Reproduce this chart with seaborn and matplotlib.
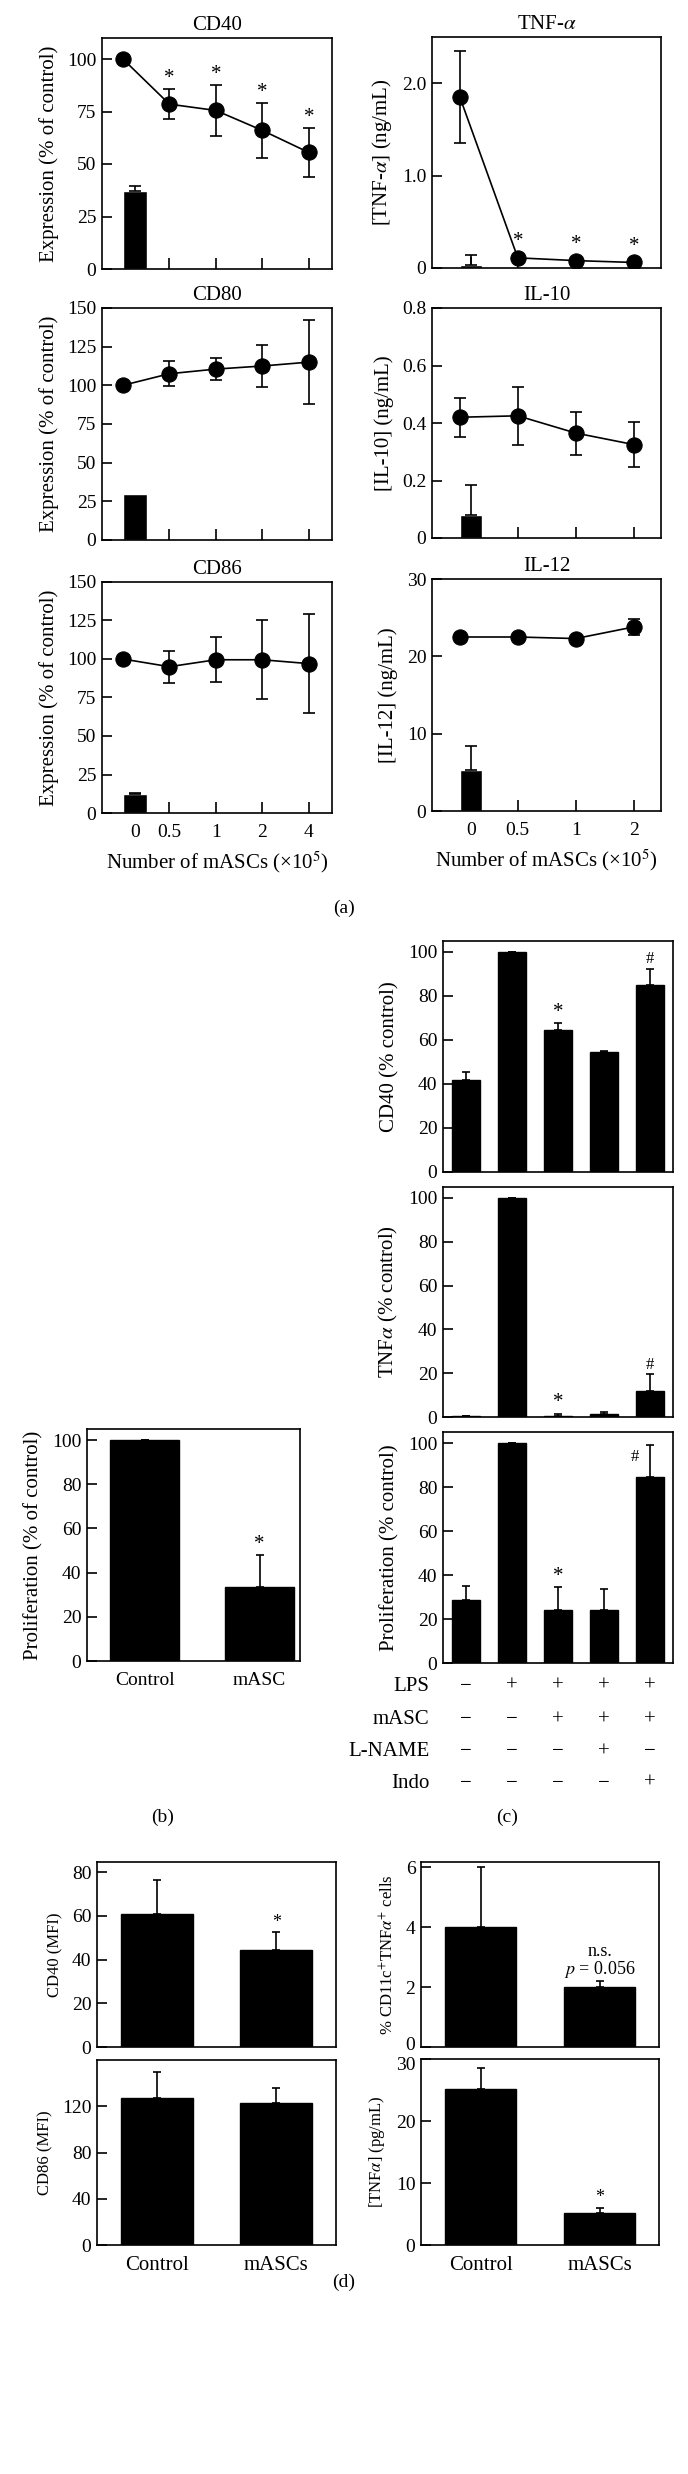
import matplotlib
matplotlib.use("Agg")
import matplotlib.pyplot as plt
from matplotlib.transforms import ScaledTranslation
import seaborn as sns
import numpy as np

# ---------------- (a) dose response (mean, sd)
dose_left = ["0", "0.5", "1", "2", "4"]
dose_right = ["0", "0.5", "1", "2"]

cd40_mean = [100, 78.5, 75.5, 66, 55.5]
cd40_sd = [0, 7, 12, 13, 11.5]
cd40_ctrl, cd40_ctrl_sd = 37, 2.5
cd80_mean = [100, 107.5, 110.5, 112.5, 115]
cd80_sd = [0, 8, 7, 13.5, 27]
cd80_ctrl, cd80_ctrl_sd = 30, 0
cd86_mean = [100, 95, 99.5, 99.5, 97]
cd86_sd = [0, 10.5, 14.5, 25.5, 32]
cd86_ctrl, cd86_ctrl_sd = 12.5, 0.5

tnf_mean = [1.85, 0.11, 0.08, 0.06]
tnf_sd = [0.5, 0, 0, 0]
tnf_ctrl, tnf_ctrl_sd = 0.03, 0.11
il10_mean = [0.42, 0.425, 0.365, 0.325]
il10_sd = [0.068, 0.1, 0.075, 0.077]
il10_ctrl, il10_ctrl_sd = 0.08, 0.105
il12_mean = [22.5, 22.5, 22.3, 23.8]
il12_sd = [0, 0, 0, 1.0]
il12_ctrl, il12_ctrl_sd = 5.3, 3.1

# ---------------- (b)
b_groups = ["Control", "mASC"]
b_mean = [100, 33.5]
b_sd = [0, 14.5]

# ---------------- (c)
c_cd40 = [42, 100, 64.5, 54.5, 85]
c_cd40_sd = [3.5, 0, 3, 0.5, 7.5]
c_tnf = [0.3, 100, 0.5, 1.5, 12]
c_tnf_sd = [0, 0, 1, 1, 7.5]
c_prolif = [28.5, 100, 24, 24, 84.5]
c_prolif_sd = [6.5, 0, 10.5, 9.5, 14.5]
c_rows = ["LPS", "mASC", "L-NAME", "Indo"]
c_lps = ["\u2212", "+", "+", "+", "+"]
c_masc = ["\u2212", "\u2212", "+", "+", "+"]
c_lname = ["\u2212", "\u2212", "\u2212", "+", "\u2212"]
c_indo = ["\u2212", "\u2212", "\u2212", "\u2212", "+"]

# ---------------- (d)
d_groups = ["Control", "mASCs"]
d_cd40 = [61, 44.5]
d_cd40_sd = [15.5, 8]
d_cd86 = [127, 123]
d_cd86_sd = [23, 13]
d_pct = [4.0, 2.0]
d_pct_sd = [2.0, 0.2]
d_tnf = [25.2, 5.1]
d_tnf_sd = [3.3, 0.9]

sns.set_theme(style="ticks", rc={
    "xtick.direction": "in", "ytick.direction": "in",
    "axes.edgecolor": "black", "axes.linewidth": 1.2,
    "xtick.color": "black", "ytick.color": "black",
    "xtick.major.size": 7, "ytick.major.size": 7,
    "xtick.major.width": 1.2, "ytick.major.width": 1.2,
})
plt.rcParams["font.family"] = ["Liberation Serif", "DejaVu Serif"]
plt.rcParams["mathtext.fontset"] = "stix"
plt.rcParams["text.color"] = "black"
plt.rcParams["axes.labelcolor"] = "black"

W, H = 688, 2474
fig = plt.figure(figsize=(W / 100, H / 100), dpi=100)


def panel(x0, x1, y0, y1):
    return fig.add_axes([x0 / W, 1 - y1 / H, (x1 - x0) / W, (y1 - y0) / H])


def star(ax, x, y, s="*", off=1, size=15, ha="center"):
    ax.annotate(s, (x, y), xytext=(0, off), textcoords="offset points",
                ha=ha, va="bottom", fontsize=size)


def nudge(label, dy_px):
    label.set_transform(label.get_transform()
                        + ScaledTranslation(0, dy_px / 100, fig.dpi_scale_trans))


def dose_panel(ax, labels, mean, sd, ctrl, ctrl_sd, bar_w, xlim, ylim,
               yticks, yticklabels, title, ylabel, stars=(), star_off=1,
               show_x=False):
    xs = np.arange(len(mean))
    ax.bar(0, ctrl, width=bar_w, align="edge", color="black", zorder=2)
    if ctrl_sd:
        ax.errorbar([bar_w / 2], [ctrl], yerr=[[0], [ctrl_sd]], fmt="none",
                    ecolor="black", elinewidth=1.2, capsize=4, capthick=1.2)
    ax.errorbar(xs, mean, yerr=sd, fmt="none", ecolor="black",
                elinewidth=1.2, capsize=4, capthick=1.2, zorder=3)
    sns.lineplot(x=xs, y=mean, color="black", marker="o", markersize=11,
                 markeredgecolor="black", linewidth=1.2, ax=ax, zorder=4)
    for i in stars:
        star(ax, xs[i], mean[i] + sd[i], off=star_off)
    ax.set_xlim(*xlim)
    ax.set_ylim(*ylim)
    ax.set_xticks([bar_w / 2] + list(xs[1:]))
    ax.set_xticklabels(labels if show_x else [""] * len(labels))
    ax.tick_params(axis="x", length=8, pad=8, labelsize=14)
    ax.set_yticks(yticks)
    ax.set_yticklabels(yticklabels)
    ax.tick_params(axis="y", labelsize=14, pad=4)
    ax.set_title(title, fontsize=15, pad=6)
    ax.set_ylabel(ylabel, fontsize=15, labelpad=6)
    if show_x:
        ax.set_xlabel("Number of mASCs (\u00d710$^5$)", fontsize=15, labelpad=6)


expr = "Expression (% of control)"
L = (102, 332)
R = (432, 661)
dose_panel(panel(*L, 38, 269), dose_left, cd40_mean, cd40_sd, cd40_ctrl,
           cd40_ctrl_sd, 0.52, (-0.45, 4.5), (0, 110), [0, 25, 50, 75, 100],
           ["0", "25", "50", "75", "100"], "CD40", expr, stars=[1, 2, 3, 4])
dose_panel(panel(*L, 308, 540), dose_left, cd80_mean, cd80_sd, cd80_ctrl,
           cd80_ctrl_sd, 0.52, (-0.45, 4.5), (0, 150), range(0, 151, 25),
           [str(v) for v in range(0, 151, 25)], "CD80", expr)
dose_panel(panel(*L, 582, 813), dose_left, cd86_mean, cd86_sd, cd86_ctrl,
           cd86_ctrl_sd, 0.52, (-0.45, 4.5), (0, 150), range(0, 151, 25),
           [str(v) for v in range(0, 151, 25)], "CD86", expr, show_x=True)

dose_panel(panel(*R, 37, 268), dose_right, tnf_mean, tnf_sd, tnf_ctrl,
           tnf_ctrl_sd, 0.38, (-0.48, 3.47), (0, 2.5), [0, 1, 2],
           ["0", "1.0", "2.0"], r"TNF-$\alpha$", r"[TNF-$\alpha$] (ng/mL)",
           stars=[1, 2, 3], star_off=5)
dose_panel(panel(*R, 308, 538), dose_right, il10_mean, il10_sd, il10_ctrl,
           il10_ctrl_sd, 0.38, (-0.48, 3.47), (0, 0.8), [0, 0.2, 0.4, 0.6, 0.8],
           ["0", "0.2", "0.4", "0.6", "0.8"], "IL-10", "[IL-10] (ng/mL)")
dose_panel(panel(*R, 579, 811), dose_right, il12_mean, il12_sd, il12_ctrl,
           il12_ctrl_sd, 0.38, (-0.48, 3.47), (0, 30), [0, 10, 20, 30],
           ["0", "10", "20", "30"], "IL-12", "[IL-12] (ng/mL)", show_x=True)


def bar_panel(ax, groups, mean, sd, ylim, yticks, ylabel, xlim=(-0.5, 1.5),
              tick_size=14, xtick_size=14, label_size=15, cap=3, show_x=True):
    sns.barplot(x=groups, y=mean, color="black", saturation=1, width=0.6,
                edgecolor="black", ax=ax, zorder=2)
    xs = np.arange(len(mean))
    ax.errorbar(xs, mean, yerr=[np.zeros(len(sd)), sd], fmt="none",
                ecolor="black", elinewidth=1.2, capsize=cap, capthick=1.2,
                zorder=3)
    ax.set_xlim(*xlim)
    ax.set_ylim(*ylim)
    ax.set_yticks(yticks)
    ax.set_yticklabels([f"{v:g}" for v in yticks])
    ax.tick_params(axis="y", labelsize=tick_size, pad=4)
    ax.tick_params(axis="x", length=0, pad=8, labelsize=xtick_size)
    if not show_x:
        ax.set_xticklabels([])
    ax.set_ylabel(ylabel, fontsize=label_size, labelpad=6)
    ax.set_xlabel("")
    return xs


# (b)
axb = panel(87, 300, 1429, 1661)
xs = bar_panel(axb, b_groups, b_mean, b_sd, (0, 105), range(0, 101, 20),
               "Proliferation (% of control)", xlim=(-0.5, 1.35))
star(axb, xs[1], b_mean[1] + b_sd[1])

# (c)
cx = (443, 673)
c_groups = ["g1", "g2", "g3", "g4", "g5"]
ax1 = panel(*cx, 941, 1172)
xs = bar_panel(ax1, c_groups, c_cd40, c_cd40_sd, (0, 105), range(0, 101, 20),
               "CD40 (% control)", xlim=(-0.5, 4.5), show_x=False)
star(ax1, xs[2], c_cd40[2] + c_cd40_sd[2])
star(ax1, xs[4], c_cd40[4] + c_cd40_sd[4], s="#", size=12)
ax2 = panel(*cx, 1187, 1417)
xs = bar_panel(ax2, c_groups, c_tnf, c_tnf_sd, (0, 105), range(0, 101, 20),
               r"TNF$\alpha$ (% control)", xlim=(-0.5, 4.5), show_x=False)
star(ax2, xs[2], c_tnf[2] + c_tnf_sd[2])
star(ax2, xs[4], c_tnf[4] + c_tnf_sd[4], s="#", size=12)
ax3 = panel(*cx, 1432, 1663)
xs = bar_panel(ax3, c_groups, c_prolif, c_prolif_sd, (0, 105),
               range(0, 101, 20), "Proliferation (% control)",
               xlim=(-0.5, 4.5), show_x=False)
star(ax3, xs[2], c_prolif[2] + c_prolif_sd[2])
ax3.annotate("#", (xs[4], c_prolif[4] + c_prolif_sd[4]), xytext=(-8, -14),
             textcoords="offset points", ha="right", va="bottom", fontsize=12)
row_y = [-0.10, -0.245, -0.385, -0.52]
for rname, signs, ry in zip(c_rows, [c_lps, c_masc, c_lname, c_indo], row_y):
    ax3.text(-0.06, ry, rname, transform=ax3.transAxes, ha="right",
             va="center", fontsize=15)
    for x, s in zip(xs, signs):
        ax3.text(x, ry, s, transform=ax3.get_xaxis_transform(), ha="center",
                 va="center", fontsize=15)

# (d)
dl = (97, 336)
dr = (421, 659)
dkw = dict(tick_size=14, xtick_size=15, label_size=12)
a = panel(*dl, 1862, 2047)
xs = bar_panel(a, d_groups, d_cd40, d_cd40_sd, (0, 84.6), range(0, 81, 20),
               "CD40 (MFI)", show_x=False, **dkw)
star(a, xs[1], d_cd40[1] + d_cd40_sd[1], size=13)
a = panel(*dl, 2060, 2245)
bar_panel(a, d_groups, d_cd86, d_cd86_sd, (0, 160), range(0, 121, 40),
          "CD86 (MFI)", **dkw)
a = panel(*dr, 1862, 2047)
xs = bar_panel(a, d_groups, d_pct, d_pct_sd, (0, 6.17), range(0, 7, 2),
               r"% CD11c$^{+}$TNF$\alpha^{+}$ cells", show_x=False, **dkw)
a.text(xs[1], 3.2, "n.s.", ha="center", va="center", fontsize=13)
a.text(xs[1], 2.6, r"$p$ = 0.056", ha="center", va="center", fontsize=13)
nudge(a.get_yticklabels()[0], 4)
a = panel(*dr, 2059, 2245)
xs = bar_panel(a, d_groups, d_tnf, d_tnf_sd, (0, 30), range(0, 31, 10),
               r"[TNF$\alpha$] (pg/mL)", **dkw)
star(a, xs[1], d_tnf[1] + d_tnf_sd[1], size=13)
nudge(a.get_yticklabels()[-1], -4)

for txt, x, y in [("(a)", 344, 908), ("(b)", 163, 1817), ("(c)", 507, 1817),
                  ("(d)", 344, 2282)]:
    fig.text(x / W, 1 - y / H, txt, ha="center", va="center", fontsize=14)

fig.savefig("out.png", dpi=100)
